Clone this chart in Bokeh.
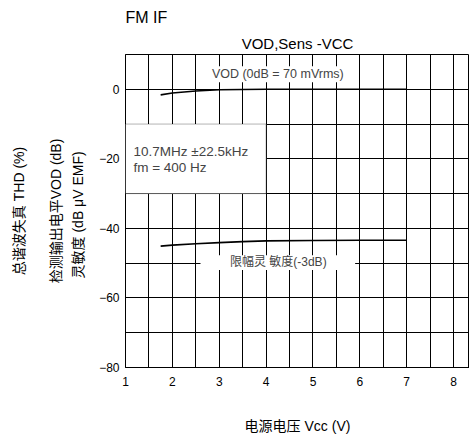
from bokeh.plotting import figure
from bokeh.models import Label, BoxAnnotation, FixedTicker, Range1d, Title, LinearAxis
from bokeh.embed import file_html
from bokeh.resources import INLINE

# ---- data ----
vcc_vod = [1.75, 2.0, 2.5, 3.0, 3.5, 4.0, 5.0, 6.0, 7.0]
vod_db = [-1.6, -1.05, -0.5, -0.15, -0.05, 0.0, 0.0, 0.0, 0.0]
vcc_sens = [1.75, 2.0, 2.5, 3.0, 3.5, 4.0, 5.0, 6.0, 7.0]
sens_db = [-45.1, -44.8, -44.4, -44.1, -43.8, -43.6, -43.5, -43.4, -43.4]
x_ticks = [1, 2, 3, 4, 5, 6, 7, 8]
y_ticks = [0, -20, -40, -60, -80]
x_grid = [1 + 0.5 * i for i in range(16)]
y_grid = [10 - 10 * i for i in range(10)]

FONT = "Liberation Sans, Arial, Noto Sans CJK SC, sans-serif"

p = figure(width=469, height=436, output_backend="svg", toolbar_location=None,
           x_range=Range1d(1, 8.34), y_range=Range1d(-80, 10),
           min_border_left=125, min_border_right=0, min_border_top=54,
           min_border_bottom=68, title=None)

p.background_fill_color = "white"
p.border_fill_color = "white"
p.outline_line_color = "black"
p.outline_line_width = 1

# grid
p.xgrid.ticker = FixedTicker(ticks=x_grid)
p.ygrid.ticker = FixedTicker(ticks=y_grid)
for g in (p.xgrid, p.ygrid):
    g.grid_line_color = "black"
    g.grid_line_width = 1
    g.grid_line_alpha = 1

# axes
p.xaxis.ticker = FixedTicker(ticks=x_ticks)
p.yaxis.ticker = FixedTicker(ticks=y_ticks)
for ax in (p.xaxis, p.yaxis):
    ax.major_tick_line_color = None
    ax.minor_tick_line_color = None
    ax.major_tick_out = 0
    ax.minor_tick_out = 0
    ax.axis_line_color = "black"
    ax.major_label_text_font = FONT
    ax.major_label_text_font_size = "12px"
    ax.major_label_text_color = "black"
    ax.axis_label_text_font = FONT
    ax.axis_label_text_font_style = "normal"
    ax.axis_label_text_color = "black"
p.xaxis.major_label_standoff = 9
p.yaxis.major_label_standoff = 6
p.xaxis.axis_label = "电源电压 Vcc (V)"
p.xaxis.axis_label_text_font_size = "14px"
p.xaxis.axis_label_standoff = 29

p.yaxis.axis_label = "灵敏度 (dB  μV  EMF)"
p.yaxis.axis_label_text_font_size = "14px"
p.yaxis.axis_label_standoff = 10

for txt, standoff in [("检测输出电平VOD (dB)", 4), ("总谐波失真 THD (%)", 18)]:
    ax = LinearAxis(ticker=FixedTicker(ticks=[]), axis_label=txt,
                    axis_line_color=None, major_tick_line_color=None,
                    minor_tick_line_color=None, major_tick_out=0, minor_tick_out=0,
                    major_label_standoff=0, axis_label_standoff=standoff,
                    axis_label_text_font=FONT, axis_label_text_font_size="14px",
                    axis_label_text_font_style="normal", axis_label_text_color="black")
    p.add_layout(ax, "left")

# titles
p.add_layout(Title(text="VOD,Sens -VCC", align="center", text_font=FONT,
                   text_font_size="15px", text_font_style="normal",
                   text_color="black", standoff=5), "above")
p.add_layout(Title(text="FM IF", align="left", text_font=FONT,
                   text_font_size="16px", text_font_style="normal",
                   text_color="black", standoff=10), "above")

# info box
info_box = BoxAnnotation(left=1, right=4.0, top=-10, bottom=-30,
                         fill_color="white", fill_alpha=1,
                         line_color="black", line_width=1)
p.add_layout(info_box)
p.add_layout(Label(x=1.17, y=-17.8, text="10.7MHz \u00b122.5kHz", text_font=FONT,
                   text_font_size="13.5px", text_baseline="middle", text_align="left"))
p.add_layout(Label(x=1.17, y=-22.4, text="fm = 400 Hz", text_font=FONT,
                   text_font_size="13.5px", text_baseline="middle", text_align="left"))

# label backgrounds
p.add_layout(BoxAnnotation(left=2.71, right=5.8, top=6.6, bottom=2.0,
                           fill_color="white", fill_alpha=1, line_color=None))
p.add_layout(BoxAnnotation(left=2.6, right=5.9, top=-47.7, bottom=-52.0,
                           fill_color="white", fill_alpha=1, line_color=None))

# curves
p.line(vcc_vod, vod_db, line_color="black", line_width=1.6)
p.line(vcc_sens, sens_db, line_color="black", line_width=1.6)

p.add_layout(Label(x=4.25, y=4.3, text="VOD (0dB = 70 mVrms)", text_font=FONT,
                   text_font_size="12.5px", text_baseline="middle", text_align="center"))
p.add_layout(Label(x=4.26, y=-49.8, text="限幅灵 敏度(-3dB)", text_font=FONT,
                   text_font_size="12px", text_baseline="middle", text_align="center"))

open("out.html", "w").write(file_html(p, INLINE))
